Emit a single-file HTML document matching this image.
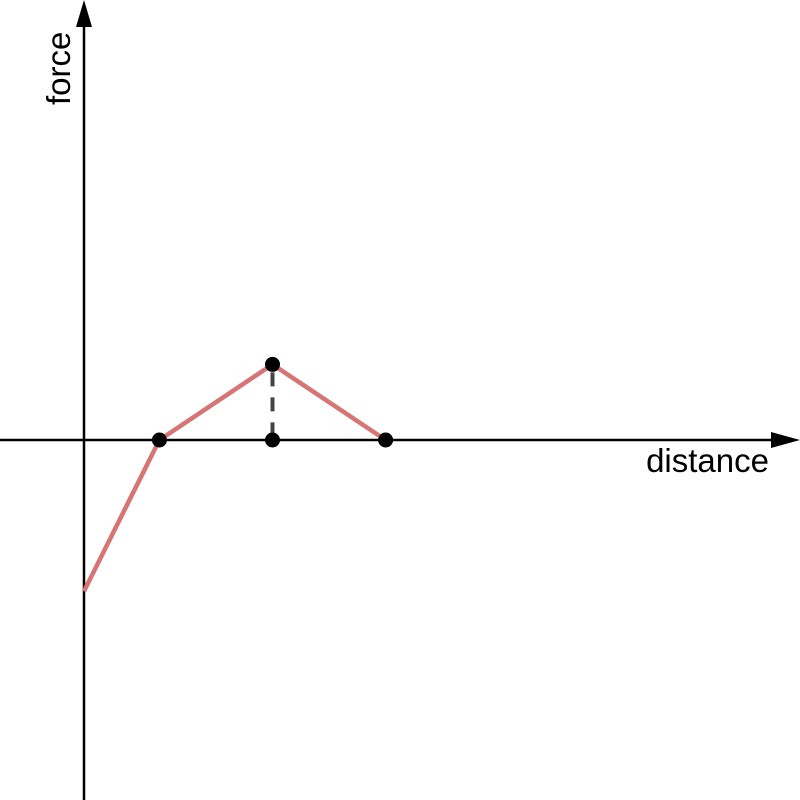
<!DOCTYPE html>
<html><head><meta charset="utf-8"><style>html,body{margin:0;padding:0;background:#fff}svg{display:block}</style></head>
<body>
<svg id="chart" width="800" height="800" viewBox="0 0 800 800" xmlns="http://www.w3.org/2000/svg">
<line x1="0" y1="440" x2="780" y2="440" stroke="#000" stroke-width="2.5"/>
<polygon points="800,440 771,432 771,448" fill="#000"/>
<line x1="84" y1="800" x2="84" y2="20" stroke="#000" stroke-width="2.5"/>
<polygon points="84,0 76,27 92,27" fill="#000"/>
<text x="769" y="472" text-anchor="end" font-family="Liberation Sans, sans-serif" font-size="33">distance</text>
<text transform="translate(70,105) rotate(-90)" font-family="Liberation Sans, sans-serif" font-size="33">force</text>
<g id="marks"></g>
</svg>
<script>
const xs = [0, 2, 5, 8];
const ys = [-4, 0, 2, 0];
const peakIndex = 2;
const dotIdx = [1, 2, 3];
function sx(v){return 84 + v*37.7;}
function sy(v){return 440 - v*37.8;}
const g = document.getElementById('marks');
const NS = 'http://www.w3.org/2000/svg';
const dash = document.createElementNS(NS,'line');


dash.setAttribute('x1', sx(xs[peakIndex])); dash.setAttribute('x2', sx(xs[peakIndex]));
dash.setAttribute('y1', sy(ys[peakIndex])); dash.setAttribute('y2', sy(0));
dash.setAttribute('stroke', '#444'); dash.setAttribute('stroke-width', '4');
dash.setAttribute('stroke-dasharray', '14,11'); dash.setAttribute('stroke-dashoffset', '-8');
g.appendChild(dash);
const pl = document.createElementNS(NS,'polyline');


pl.setAttribute('points', xs.map((x,i)=>sx(x)+','+sy(ys[i])).join(' '));
pl.setAttribute('fill','none'); pl.setAttribute('stroke','#d77474'); pl.setAttribute('stroke-width','4.5');
g.appendChild(pl);
function dot(x,y,name){
  const c = document.createElementNS(NS,'circle');
  
  
  c.setAttribute('cx', sx(x)); c.setAttribute('cy', sy(y)); c.setAttribute('r', 7.5); c.setAttribute('fill', '#000');
  g.appendChild(c);
}
dotIdx.forEach(i=>dot(xs[i], ys[i], 'point'));
dot(xs[peakIndex], 0, 'peak-foot-point');
</script>
</body></html>
